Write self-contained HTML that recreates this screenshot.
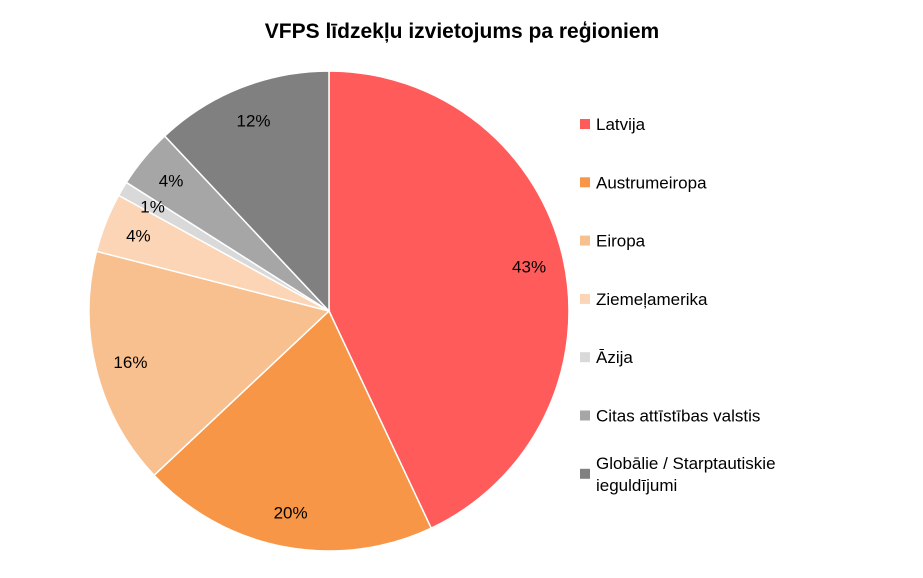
<!DOCTYPE html>
<html><head><meta charset="utf-8"><style>
body{margin:0;background:#fff;font-family:"Liberation Sans",Arial,sans-serif}
</style></head><body>
<svg width="923" height="573" viewBox="0 0 923 573">
<rect width="923" height="573" fill="#fff"/>
<text x="462" y="38" text-anchor="middle" font-size="21" font-weight="bold" fill="#000">VFPS līdzekļu izvietojums pa reģioniem</text>
<g id="slices"></g><g id="labels"></g><g id="legend"></g>
</svg>
<script>
const categories=["Latvija","Austrumeiropa","Eiropa","Ziemeļamerika","Āzija","Citas attīstības valstis","Globālie / Starptautiskie ieguldījumi"];
const values=[43,20,16,4,1,4,12];
const valueLabels=["43%","20%","16%","4%","1%","4%","12%"];
const colors=["#FF5B5B","#F79646","#F9C08F","#FBD5B5","#D9D9D9","#A6A6A6","#808080"];
const NS="http://www.w3.org/2000/svg";
const cx=329,cy=311,r=240,lr=205;
const total=values.reduce((a,b)=>a+b,0);
const sg=document.getElementById('slices'),lg=document.getElementById('labels'),leg=document.getElementById('legend');
function pt(a,rad){return [cx+rad*Math.sin(a),cy-rad*Math.cos(a)];}
let acc=0;
values.forEach((v,i)=>{
  const a0=acc/total*2*Math.PI;acc+=v;const a1=acc/total*2*Math.PI;
  const p0=pt(a0,r),p1=pt(a1,r);
  const p=document.createElementNS(NS,'path');
  p.setAttribute('d',`M${cx},${cy}L${p0[0]},${p0[1]}A${r},${r} 0 ${a1-a0>Math.PI?1:0} 1 ${p1[0]},${p1[1]}Z`);
  p.setAttribute('fill',colors[i]);p.setAttribute('stroke','#fff');p.setAttribute('stroke-width','1.5');
  
  
  sg.appendChild(p);
  const m=(a0+a1)/2,lp=pt(m,lr);
  const t=document.createElementNS(NS,'text');
  t.setAttribute('x',lp[0]);t.setAttribute('y',lp[1]+6);t.setAttribute('text-anchor','middle');
  t.setAttribute('font-size','17');t.textContent=valueLabels[i];
  
  
  lg.appendChild(t);
  const y=124+i*58.3;
  const g=document.createElementNS(NS,'g');
  
  
  const s=document.createElementNS(NS,'rect');
  s.setAttribute('x',580);s.setAttribute('y',y-5);s.setAttribute('width',10);s.setAttribute('height',10);s.setAttribute('fill',colors[i]);
  g.appendChild(s);
  const lt=document.createElementNS(NS,'text');
  lt.setAttribute('x',596);lt.setAttribute('y',y+6);lt.setAttribute('font-size','17');
  if(i===6){
    lt.setAttribute('y',y-5);
    const a=document.createElementNS(NS,'tspan');a.setAttribute('x',596);a.textContent="Globālie / Starptautiskie";
    const b=document.createElementNS(NS,'tspan');b.setAttribute('x',596);b.setAttribute('dy','22');b.textContent="ieguldījumi";
    lt.appendChild(a);lt.appendChild(b);
  } else lt.textContent=categories[i];
  g.appendChild(lt);leg.appendChild(g);
});
</script>
</body></html>
